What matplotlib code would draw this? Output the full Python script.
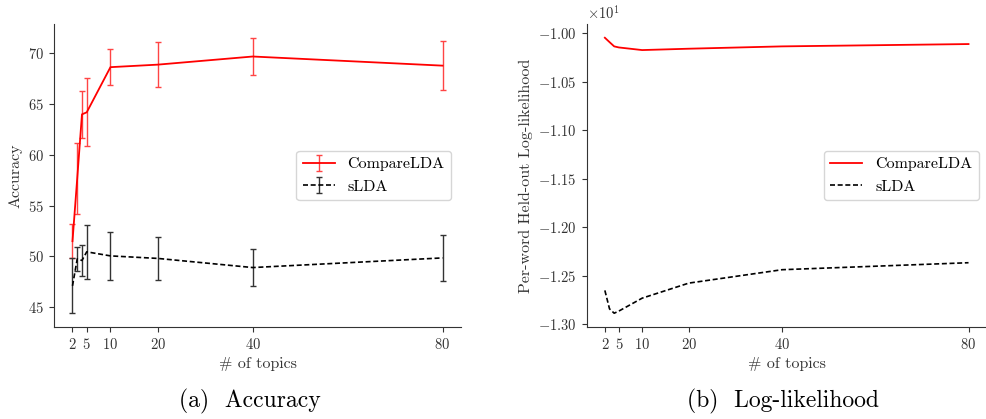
import matplotlib
matplotlib.use("Agg")

import matplotlib.pyplot as plt

# number of topics
topics = [2, 3, 4, 5, 10, 20, 40, 80]
xticks = [2, 5, 10, 20, 40, 80]

# accuracy (mean and half-width of the error bar)
acc_compare = [51.5, 57.7, 64.0, 64.2, 68.65, 68.9, 69.7, 68.8]
err_compare = [1.65, 3.5, 2.35, 3.35, 1.75, 2.2, 1.85, 2.4]
acc_slda = [47.1, 49.75, 49.6, 50.45, 50.05, 49.8, 48.9, 49.85]
err_slda = [2.7, 1.15, 1.5, 2.65, 2.35, 2.1, 1.8, 2.25]

# per-word held-out log-likelihood
ll_compare = [-10.048, -10.093, -10.137, -10.148, -10.175, -10.161, -10.137, -10.113]
ll_slda = [-12.65, -12.84, -12.885, -12.863, -12.73, -12.575, -12.437, -12.365]

plt.rcParams["font.family"] = "serif"
plt.rcParams["font.serif"] = ["cmr10"]
plt.rcParams["mathtext.fontset"] = "cm"
plt.rcParams["axes.formatter.use_mathtext"] = True
plt.rcParams["axes.unicode_minus"] = True

DASH = (0, (3, 1.6))


def style_axes(ax):
    for side in ("top", "right"):
        ax.spines[side].set_visible(False)
    for side in ("left", "bottom"):
        ax.spines[side].set_color("#333333")
    ax.tick_params(labelsize=10.5, colors="#333333", length=3.5)
    ax.set_xticks(xticks)
    ax.set_xlabel("# of topics", fontsize=11.5, color="#333333")


def main():
    fig = plt.figure(figsize=(9.87, 4.19), dpi=100)
    ax1 = fig.add_axes([0.0547, 0.2196, 0.4124, 0.7232])
    ax2 = fig.add_axes([0.5944, 0.2196, 0.4053, 0.7232])

    # (a) accuracy
    ax1.errorbar(topics, acc_compare, yerr=err_compare, color="red", lw=1.3,
                 elinewidth=1.0, capsize=2.5, capthick=1.0, ecolor="#ff4444",
                 label="CompareLDA")
    ax1.errorbar(topics, acc_slda, yerr=err_slda, color="black", ls=DASH, lw=1.2,
                 elinewidth=1.0, capsize=2.5, capthick=1.0, ecolor="#333333",
                 label="sLDA")
    style_axes(ax1)
    ax1.set_yticks([45, 50, 55, 60, 65, 70])
    ax1.set_ylabel("Accuracy", fontsize=11.5, color="#333333")
    ax1.legend(loc="center right", fontsize=11.5, handlelength=2.0,
               bbox_to_anchor=(0.995, 0.5))

    # (b) log-likelihood
    ax2.plot(topics, ll_compare, color="red", lw=1.3, label="CompareLDA")
    ax2.plot(topics, ll_slda, color="black", ls=DASH, lw=1.2, label="sLDA")
    style_axes(ax2)
    ax2.ticklabel_format(axis="y", style="sci", scilimits=(0, 0))
    ax2.yaxis.get_offset_text().set_fontsize(10.5)
    ax2.set_ylabel("Per-word Held-out Log-likelihood", fontsize=11.5, color="#333333")
    ax2.legend(loc="center right", fontsize=11.5, handlelength=2.0,
               bbox_to_anchor=(1.0, 0.5))

    fig.text(0.253, 0.028, "(a)  Accuracy", ha="center", fontsize=17)
    fig.text(0.793, 0.028, "(b)  Log-likelihood", ha="center", fontsize=17)

    fig.savefig("out.png", dpi=100)


if __name__ == "__main__":
    main()
